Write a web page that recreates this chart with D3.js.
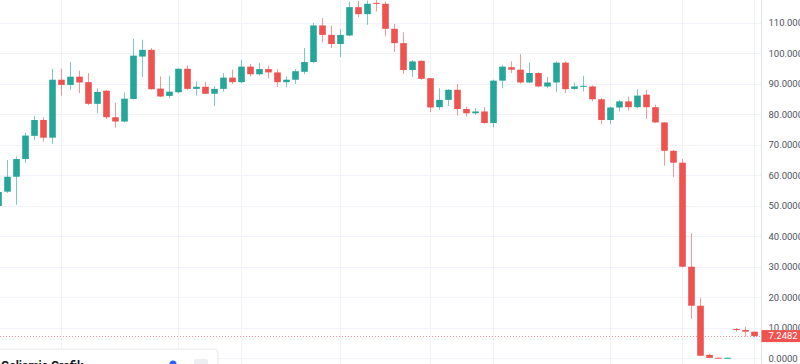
<!DOCTYPE html>
<html>
<head>
<meta charset="utf-8">
<script src="https://cdn.jsdelivr.net/npm/d3@7/dist/d3.min.js"></script>
<style>
  html, body { margin: 0; padding: 0; background: #ffffff; overflow: hidden; }
  svg { display: block; }
  text { font-family: Roboto, "Liberation Sans", sans-serif; }
</style>
</head>
<body>
<svg id="chart" width="800" height="364"></svg>
<script>
// ---- data ----
const opens  = [49.9,54.6,59.5,65.3,72.9,78.1,72.3,91.3,89.6,92.3,90.5,83.4,87.7,79.0,77.6,85.0,98.9,101.1,88.4,86.0,
                87.2,94.9,88.3,89.0,86.7,88.3,92.0,90.5,95.6,93.1,94.8,93.7,90.5,91.3,93.9,97.1,109.1,106.0,103.0,105.8,
                115.1,112.8,116.5,116.2,108.0,103.3,94.5,97.5,91.8,82.3,84.7,88.0,81.7,80.3,80.9,77.1,91.0,95.4,94.6,90.4,
                93.5,89.1,90.4,96.9,88.3,89.1,89.1,84.9,78.1,82.2,84.2,82.3,86.4,82.3,77.3,68.0,64.1,30.0,17.2,1.1,
                0.15,0.05,9.58,9.25,8.69];
const highs  = [55.2,65.0,66.1,74.0,79.5,79.0,94.9,94.9,97.1,94.3,93.5,88.5,88.0,83.8,87.1,104.7,104.4,101.7,92.4,92.6,
                95.0,96.0,90.7,90.5,89.1,93.5,94.6,97.8,96.5,96.8,95.9,94.8,92.4,94.8,101.7,109.9,111.5,109.0,108.0,116.9,
                117.2,117.3,117.4,117.0,109.6,106.8,97.8,97.6,91.9,88.5,88.2,89.9,82.5,82.0,82.3,91.3,96.2,97.3,99.7,96.9,
                93.7,92.2,97.3,97.3,90.4,92.6,89.4,85.3,82.5,84.7,85.8,88.2,88.0,83.1,77.4,68.3,65.3,41.0,19.7,1.4,
                0.2,0.2,9.91,10.33,8.75];
const lows   = [49.6,54.2,50.3,63.9,71.6,71.0,70.3,86.1,88.0,86.9,83.0,80.3,78.4,75.6,77.3,84.9,92.2,88.0,85.6,85.3,
                86.9,88.0,86.1,86.6,82.7,87.4,89.9,90.2,92.4,92.6,91.8,88.9,88.9,89.9,93.1,96.8,103.5,101.7,98.7,105.6,
                111.8,109.3,113.7,105.5,100.4,93.2,92.2,91.3,80.7,81.4,82.7,79.5,79.2,79.8,76.9,75.6,88.5,93.5,90.0,90.2,
                88.9,88.5,87.2,86.9,88.0,87.4,84.2,76.8,76.8,80.9,81.2,82.0,78.5,77.1,63.1,59.4,29.8,12.9,0.7,0.05,
                0.02,0.02,8.69,7.05,6.86];
const closes = [54.5,59.5,65.3,73.0,78.1,72.3,91.3,89.6,92.3,90.4,83.4,87.3,79.0,77.6,85.1,99.2,101.1,88.2,85.8,87.4,
                94.9,88.3,89.0,86.7,88.3,92.0,90.5,95.6,93.1,94.8,93.7,90.5,91.3,94.1,97.1,109.1,106.0,103.0,106.0,115.1,
                112.8,116.2,116.2,108.0,103.3,94.5,97.3,91.6,82.2,84.7,88.0,81.7,80.3,80.9,77.1,91.0,95.6,94.6,90.4,93.5,
                89.1,90.4,96.9,88.2,89.1,89.3,84.9,78.1,82.2,84.2,82.3,86.1,82.3,77.3,68.0,64.1,30.0,17.2,0.8,0.1,
                0.05,0.15,9.25,8.69,7.2482];
const priceTicks = [0,10,20,30,40,50,60,70,80,90,100,110,120];
const timeGridIdx = [7,20,27,38,48,55,68,76,84];   // candle indices carrying time-axis grid lines
const lastPrice = 7.2482;
const legendText = "Gelişmiş Grafik";

// ---- layout ----
const W = 800, H = 364;
const axisX = 761.5;
const svg = d3.select("#chart");
const up = "#26a69a", down = "#ef5350";

const idx = d3.range(opens.length);
const x = d3.scaleLinear().domain([0, opens.length - 1]).range([-2, 754]);
const y = d3.scaleLinear().domain([0, 110]).range([358.2, 22.7]);

// background
svg.append("rect").attr("width", W).attr("height", H).attr("fill", "#ffffff");

const plot = svg.append("g");
plot.append("clipPath").attr("id", "clipP")
  .append("rect").attr("x", 0).attr("y", 0).attr("width", axisX).attr("height", H);
const pg = plot.append("g").attr("clip-path", "url(#clipP)");

// grid
pg.append("g").selectAll("line.h").data(priceTicks).join("line")
  .attr("x1", 0).attr("x2", axisX)
  .attr("y1", d => Math.round(y(d)) + 0.5).attr("y2", d => Math.round(y(d)) + 0.5)
  .attr("stroke", "#f0f3fa").attr("stroke-width", 1);
pg.append("g").selectAll("line.v").data(timeGridIdx).join("line")
  .attr("y1", 0).attr("y2", H)
  .attr("x1", d => Math.round(x(d)) + 0.5).attr("x2", d => Math.round(x(d)) + 0.5)
  .attr("stroke", "#f0f3fa").attr("stroke-width", 1);

// last price line
pg.append("line")
  .attr("x1", 0).attr("x2", axisX)
  .attr("y1", Math.round(y(lastPrice)) + 0.5).attr("y2", Math.round(y(lastPrice)) + 0.5)
  .attr("stroke", down).attr("stroke-opacity", 0.6)
  .attr("stroke-width", 1).attr("stroke-dasharray", "1,2");

// candles
const bodyW = 6.6;
const cg = pg.append("g");
cg.selectAll("line.wick").data(idx).join("line")
  .attr("x1", i => Math.round(x(i)) + 0.5).attr("x2", i => Math.round(x(i)) + 0.5)
  .attr("y1", i => y(highs[i])).attr("y2", i => y(lows[i]))
  .attr("stroke", i => closes[i] >= opens[i] ? up : down)
  .attr("stroke-opacity", 0.6).attr("stroke-width", 1);
cg.selectAll("rect.body").data(idx).join("rect")
  .attr("x", i => Math.round(x(i)) + 0.5 - bodyW / 2)
  .attr("width", bodyW)
  .attr("y", i => y(Math.max(opens[i], closes[i])))
  .attr("height", i => Math.max(1, Math.abs(y(opens[i]) - y(closes[i]))))
  .attr("fill", i => closes[i] >= opens[i] ? up : down);

// legend overlay box at bottom left
const lg = svg.append("g");
lg.append("rect").attr("x", -4).attr("y", 349).attr("width", 222).attr("height", 30)
  .attr("rx", 4).attr("fill", "#ffffff")
  .attr("stroke", "#e6e8ee").attr("stroke-width", 1);
lg.append("text").attr("x", 1).attr("y", 370).attr("font-size", 12).attr("font-weight", 700)
  .attr("fill", "#131722").text(legendText);
lg.append("circle").attr("cx", 173).attr("cy", 364).attr("r", 3.5).attr("fill", "#2962ff");
lg.append("rect").attr("x", 194).attr("y", 359).attr("width", 14).attr("height", 10).attr("rx", 2)
  .attr("fill", "#eceef2");

// price axis
const ax = svg.append("g");
ax.append("rect").attr("x", axisX).attr("y", 0).attr("width", W - axisX).attr("height", H).attr("fill", "#ffffff");
ax.append("line").attr("x1", axisX).attr("x2", axisX).attr("y1", 0).attr("y2", H)
  .attr("stroke", "#e0e3eb").attr("stroke-width", 1);
const yAxis = d3.axisRight(y).tickValues(priceTicks.filter(d => d <= 110))
  .tickFormat(d3.format(".4f")).tickSize(0).tickPadding(7);
const ya = ax.append("g").attr("transform", `translate(${axisX},0)`).call(yAxis);
ya.select(".domain").remove();
ya.selectAll("text").attr("font-size", 9.5).attr("fill", "#50535e")
  .attr("font-family", "Roboto, 'Liberation Sans', sans-serif");

// last price label
const ly = y(lastPrice);
ax.append("rect").attr("x", axisX).attr("y", ly - 6).attr("width", W - axisX).attr("height", 12)
  .attr("fill", down);
ax.append("text").attr("x", axisX + 7).attr("y", ly).attr("dy", "0.35em")
  .attr("font-size", 9.5).attr("fill", "#ffffff").text(d3.format(".4f")(lastPrice));
</script>
</body>
</html>
